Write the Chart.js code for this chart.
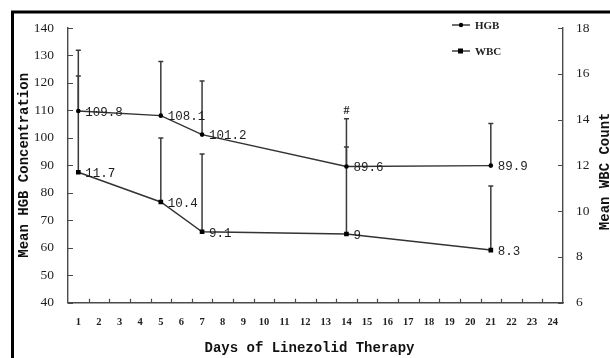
<!DOCTYPE html>
<html>
<head>
<meta charset="utf-8">
<script src="https://cdn.jsdelivr.net/npm/chart.js@4.4.1/dist/chart.umd.min.js"></script>
<style>
  html, body { margin: 0; padding: 0; background: #fff; }
  #wrap { width: 610px; height: 358px; }
</style>
</head>
<body>
<div id="wrap"><canvas id="chart"></canvas></div>
<script>
const dayLabels = ["1", "2", "3", "4", "5", "6", "7", "8", "9", "10", "11", "12",
  "13", "14", "15", "16", "17", "18", "19", "20", "21", "22", "23", "24"];
const days = ["1", "5", "7", "14", "21"];
const hgbMean = [109.8, 108.1, 101.2, 89.6, 89.9];
const hgbErr = [22.1, 19.7, 19.5, 17.4, 15.3];
const wbcMean = [11.7, 10.4, 9.1, 9, 8.3];
const wbcErr = [4.2, 2.8, 3.4, 3.8, 2.8];
const hgbNotes = ["", "", "", "#", ""];
const hgbTicks = [40, 50, 60, 70, 80, 90, 100, 110, 120, 130, 140];
const wbcTicks = [6, 8, 10, 12, 14, 16, 18];

const INK = "#1e1e1e";
const AXIS = "#4a4a4a";
const MONO = '"Liberation Mono", "DejaVu Sans Mono", monospace';
const SERIF = '"Liberation Serif", "DejaVu Serif", serif';

function toPoints(values) {
  return days.map((d, i) => ({ x: d, y: values[i] }));
}

// one-sided (upper) error bars, a bit of text next to each point, the frame,
// the inward tick marks and the hand-placed legend / axis titles
const decorations = {
  id: "decorations",
  beforeDraw(chart) {
    const { ctx } = chart;
    ctx.save();
    ctx.strokeStyle = "#000";
    ctx.lineWidth = 3;
    ctx.beginPath();
    ctx.moveTo(12.5, 358);
    ctx.lineTo(12.5, 12);
    ctx.lineTo(610, 12);
    ctx.stroke();
    ctx.restore();
  },
  beforeDatasetsDraw(chart) {
    const { ctx } = chart;
    const errs = [hgbErr, wbcErr];
    const means = [hgbMean, wbcMean];
    ctx.save();
    ctx.strokeStyle = "#3a3a3a";
    ctx.lineWidth = 1.5;
    chart.data.datasets.forEach((ds, di) => {
      const meta = chart.getDatasetMeta(di);
      const yScale = chart.scales[ds.yAxisID];
      meta.data.forEach((pt, i) => {
        const top = yScale.getPixelForValue(means[di][i] + errs[di][i]);
        ctx.beginPath();
        ctx.moveTo(pt.x, pt.y);
        ctx.lineTo(pt.x, top);
        ctx.moveTo(pt.x - 2.5, top);
        ctx.lineTo(pt.x + 2.5, top);
        ctx.stroke();
        if (di === 0 && hgbNotes[i]) {
          ctx.fillStyle = INK;
          ctx.font = "bold 12px " + SERIF;
          ctx.textAlign = "center";
          ctx.textBaseline = "bottom";
          ctx.fillText(hgbNotes[i], pt.x, top - 2);
        }
      });
    });
    ctx.restore();
  },
  afterDraw(chart) {
    const { ctx, chartArea: area } = chart;
    const x = chart.scales.x;
    const yL = chart.scales.yHgb;
    const yR = chart.scales.yWbc;
    ctx.save();

    // value labels
    ctx.fillStyle = INK;
    ctx.font = "12.5px " + MONO;
    ctx.textAlign = "left";
    ctx.textBaseline = "middle";
    const means = [hgbMean, wbcMean];
    chart.data.datasets.forEach((ds, di) => {
      chart.getDatasetMeta(di).data.forEach((pt, i) => {
        ctx.fillText(String(means[di][i]), pt.x + 7, pt.y + 1.5);
      });
    });

    // tick marks pointing into the plot
    ctx.strokeStyle = AXIS;
    ctx.lineWidth = 1.2;
    ctx.beginPath();
    yL.ticks.forEach((t, i) => {
      const y = Math.round(yL.getPixelForTick(i)) + 0.5;
      ctx.moveTo(area.left, y);
      ctx.lineTo(area.left + 5, y);
    });
    yR.ticks.forEach((t, i) => {
      const y = Math.round(yR.getPixelForTick(i)) + 0.5;
      ctx.moveTo(area.right, y);
      ctx.lineTo(area.right - 5, y);
    });
    for (let i = 0; i < dayLabels.length - 1; i++) {
      const bx = Math.round((x.getPixelForTick(i) + x.getPixelForTick(i + 1)) / 2) + 0.5;
      ctx.moveTo(bx, area.bottom);
      ctx.lineTo(bx, area.bottom - 4);
    }
    ctx.stroke();

    // legend
    const legend = [
      { text: "HGB", y: 25, style: "circle" },
      { text: "WBC", y: 51, style: "rect" },
    ];
    legend.forEach((item) => {
      ctx.strokeStyle = INK;
      ctx.lineWidth = 1.3;
      ctx.beginPath();
      ctx.moveTo(452, item.y);
      ctx.lineTo(470, item.y);
      ctx.stroke();
      ctx.fillStyle = "#000";
      if (item.style === "rect") {
        ctx.fillRect(458, item.y - 2.5, 5, 5);
      } else {
        ctx.beginPath();
        ctx.arc(461, item.y, 2.2, 0, Math.PI * 2);
        ctx.fill();
      }
      ctx.fillStyle = INK;
      ctx.font = "bold 11px " + SERIF;
      ctx.textAlign = "left";
      ctx.textBaseline = "middle";
      ctx.fillText(item.text, 475, item.y + 1);
    });

    // axis titles
    ctx.fillStyle = "#111";
    ctx.font = "bold 14px " + MONO;
    ctx.textAlign = "center";
    ctx.textBaseline = "middle";
    ctx.fillText("Days of Linezolid Therapy", (area.left + area.right) / 2 - 6, 348);
    ctx.save();
    ctx.translate(24, (area.top + area.bottom) / 2);
    ctx.rotate(-Math.PI / 2);
    ctx.fillText("Mean HGB Concentration", 0, 0);
    ctx.restore();
    ctx.save();
    ctx.translate(605, (area.top + area.bottom) / 2 + 6);
    ctx.rotate(-Math.PI / 2);
    ctx.fillText("Mean WBC Count", 0, 0);
    ctx.restore();

    ctx.restore();
  },
};

new Chart(document.getElementById("chart"), {
  type: "line",
  data: {
    labels: dayLabels,
    datasets: [
      {
        label: "HGB",
        data: toPoints(hgbMean),
        yAxisID: "yHgb",
        borderColor: "#333",
        borderWidth: 1.4,
        pointStyle: "circle",
        pointRadius: 2.3,
        pointBackgroundColor: "#000",
        pointBorderColor: "#000",
        pointBorderWidth: 0,
        tension: 0,
      },
      {
        label: "WBC",
        data: toPoints(wbcMean),
        yAxisID: "yWbc",
        borderColor: "#333",
        borderWidth: 1.4,
        pointStyle: "rect",
        pointRadius: 3.3,
        pointBackgroundColor: "#000",
        pointBorderColor: "#000",
        pointBorderWidth: 0,
        tension: 0,
      },
    ],
  },
  options: {
    responsive: true,
    maintainAspectRatio: false,
    animation: false,
    events: [],
    layout: { padding: { top: 28, left: 0, right: 0, bottom: 0 } },
    plugins: { legend: { display: false }, tooltip: { enabled: false } },
    scales: {
      x: {
        type: "category",
        offset: true,
        grid: { display: false, drawTicks: false },
        border: { display: true, color: AXIS, width: 1.4 },
        ticks: {
          color: INK,
          padding: 13,
          autoSkip: false,
          maxRotation: 0,
          font: { family: SERIF, size: 10.5, weight: "bold" },
        },
        afterFit: (scale) => { scale.height = 55.3; },
      },
      yHgb: {
        position: "left",
        min: 40,
        max: 140,
        afterBuildTicks: (scale) => { scale.ticks = hgbTicks.map((v) => ({ value: v })); },
        grid: { display: false, drawTicks: false },
        border: { display: true, color: AXIS, width: 1.4 },
        ticks: { color: INK, padding: 14, font: { family: SERIF, size: 13.5 } },
        afterFit: (scale) => { scale.width = 68; },
      },
      yWbc: {
        position: "right",
        min: 6,
        max: 18,
        afterBuildTicks: (scale) => { scale.ticks = wbcTicks.map((v) => ({ value: v })); },
        grid: { display: false, drawTicks: false },
        border: { display: true, color: AXIS, width: 1.4 },
        ticks: { color: INK, padding: 13, font: { family: SERIF, size: 13.5 } },
        afterFit: (scale) => { scale.width = 47; },
      },
    },
  },
  plugins: [decorations],
});
</script>
</body>
</html>
